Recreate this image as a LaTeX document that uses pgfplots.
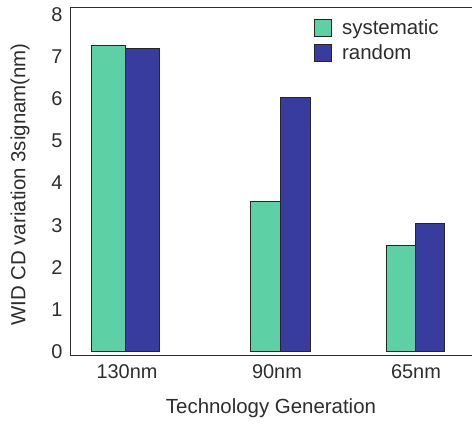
\documentclass[border=0pt]{standalone}
\usepackage{fontspec}
\setmainfont{Liberation Sans}
\usepackage{pgfplots}
\pgfplotsset{compat=1.18}
\definecolor{sysc}{RGB}{94,208,165}
\definecolor{randc}{RGB}{56,60,158}
\definecolor{txt}{RGB}{45,45,45}
\begin{document}
\begin{tikzpicture}
\path[use as bounding box] (-70bp,-69bp) rectangle (402bp,355bp);
\begin{axis}[
  scale only axis,
  width=402bp, height=348bp,
  xmin=70, xmax=472,
  ymin=-0.083, ymax=8.18,
  axis x line=box, axis y line=left,
  x axis line style={-, draw=txt, line width=0.9pt},
  y axis line style={-, draw=txt, line width=0.9pt},
  ytick={0,1,2,3,4,5,6,7,8},
  xtick={127,277,416},
  xticklabels={130nm,90nm,65nm},
  major tick length=0pt,
  /pgf/number format/assume math mode=true,
  ticklabel style={font=\fontsize{20}{24}\selectfont, text=txt},
  yticklabel style={xshift=-4bp},
  xticklabel style={yshift=-6bp},
  xlabel={Technology Generation},
  ylabel={WID CD variation 3signam(nm)},
  label style={font=\fontsize{20.5}{24}\selectfont, text=txt},
  xlabel style={at={(axis description cs:0.5,-0.152)}, anchor=center},
  ylabel style={at={(axis description cs:-0.124,0.49)}, anchor=center},
  legend style={draw=none, fill=none, at={(axis description cs:0.6,0.975)}, anchor=north west,
    font=\fontsize{20.5}{24}\selectfont, text=txt, row sep=5bp,
    legend cell align=left},
  legend image code/.code={\draw[#1,draw=black!85,line width=0.8pt] (0bp,-8bp) rectangle (17bp,9bp); \path (25bp,0bp);},
  clip=false,
]
\addplot[ybar, bar width=34, bar shift=0, fill=sysc, draw=black!85, line width=0.8pt] coordinates {(108,7.26)};
\addlegendentry{systematic}
\addplot[ybar, bar width=34, bar shift=0, fill=randc, draw=black!85, line width=0.8pt] coordinates {(142.5,7.19)};
\addlegendentry{random}
\addplot[ybar, bar width=30, bar shift=0, fill=sysc, draw=black!85, line width=0.8pt, forget plot] coordinates {(265,3.57)};
\addplot[ybar, bar width=30, bar shift=0, fill=randc, draw=black!85, line width=0.8pt, forget plot] coordinates {(295,6.03)};
\addplot[ybar, bar width=29, bar shift=0, fill=sysc, draw=black!85, line width=0.8pt, forget plot] coordinates {(401,2.51)};
\addplot[ybar, bar width=29, bar shift=0, fill=randc, draw=black!85, line width=0.8pt, forget plot] coordinates {(430,3.05)};
\end{axis}
\end{tikzpicture}
\end{document}
